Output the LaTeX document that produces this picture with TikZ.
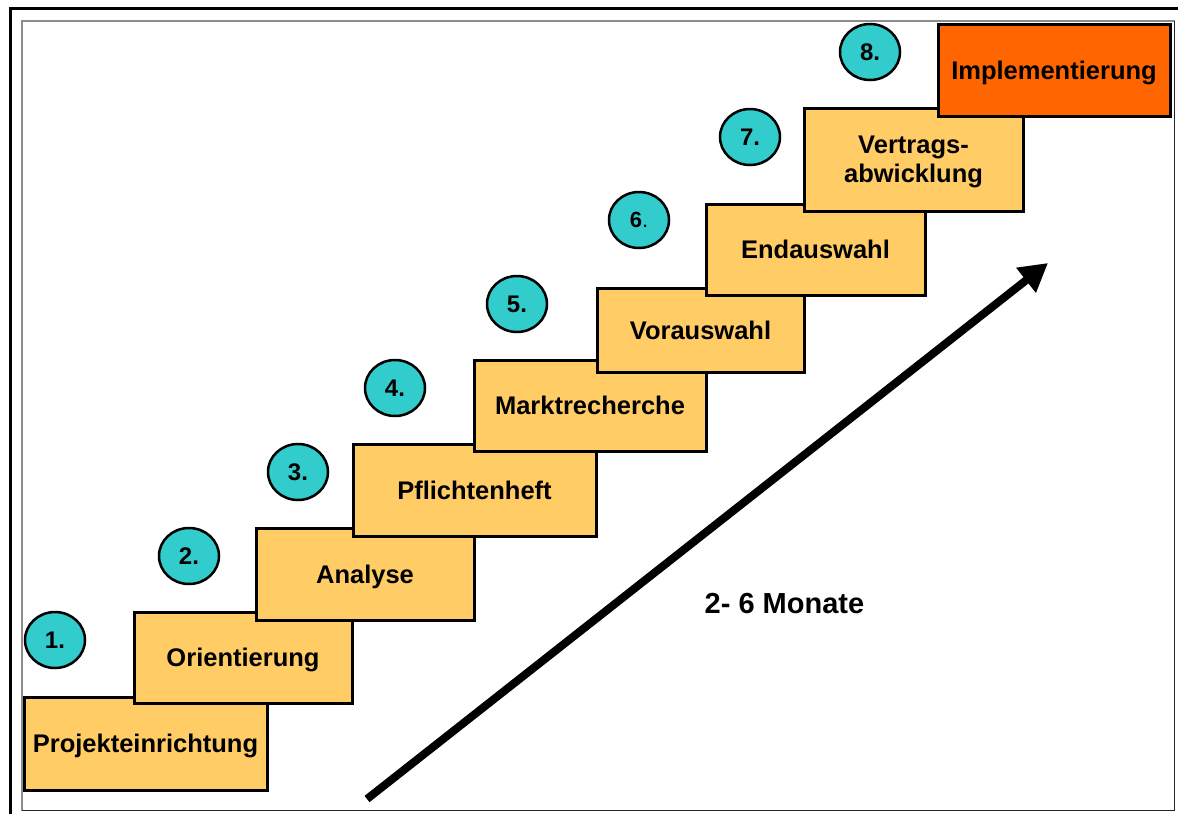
\documentclass[tikz,border=0pt]{standalone}
\usepackage{fontspec}
\setmainfont{Liberation Sans}
\usetikzlibrary{shapes.geometric,arrows.meta}
\definecolor{stepfill}{RGB}{255,204,102}
\definecolor{lastfill}{RGB}{255,102,0}
\definecolor{numfill}{RGB}{51,204,204}
\tikzset{
  stepbox/.style={draw=black, line width=3pt, fill=stepfill, rectangle, inner sep=0pt,
    font=\bfseries\fontsize{25.5}{29}\selectfont, text depth=0pt, align=center},
  numcircle/.style={draw=black, line width=2.5pt, fill=numfill, ellipse, inner sep=0pt,
    minimum width=60pt, minimum height=56pt, font=\bfseries\fontsize{24}{26}\selectfont, text depth=0pt},
  bigarrow/.style={line width=8pt, -{Triangle[length=28pt,width=30pt]}}
}
\begin{document}
\begin{tikzpicture}[x=1pt,y=-1pt]
\useasboundingbox (0,0) rectangle (1178,814);
\fill[white] (0,0) rectangle (1178,814);
% frames
\draw[line width=3pt] (10.5,814) -- (10.5,8.5) -- (1178,8.5);
\draw[line width=1.5pt, black!45] (22,21) rectangle (1174.5,810.5);
\draw[line width=1.2pt, black!85] (1174.5,21) -- (1174.5,810.5) -- (22,810.5);
% steps
\node[stepbox, minimum width=243pt, minimum height=93pt] (b1) at (145.5,743.5) {Projekteinrichtung};
\node[stepbox, minimum width=218pt, minimum height=91pt] (b2) at (243,657.5) {Orientierung};
\node[stepbox, minimum width=218pt, minimum height=92pt] (b3) at (365,574) {Analyse};
\node[stepbox, minimum width=243pt, minimum height=92pt] (b4) at (474.5,490) {Pflichtenheft};
\node[stepbox, minimum width=232pt, minimum height=91pt] (b5) at (590,405.5) {Marktrecherche};
\node[stepbox, minimum width=207pt, minimum height=84pt] (b6) at (700.5,330) {Vorauswahl};
\node[stepbox, minimum width=219pt, minimum height=91pt] (b7) at (815.5,249.5) {Endauswahl};
\node[stepbox, minimum width=219pt, minimum height=103pt] (b8) at (913.5,159.5) {Vertrags-\\abwicklung};
\node[stepbox, fill=lastfill, minimum width=232pt, minimum height=92pt] (b9) at (1054,70) {Implementierung};
% numbers
\node[numcircle] (c1) at (55,640) {1.};
\node[numcircle] (c2) at (189,556) {2.};
\node[numcircle] (c3) at (298,472) {3.};
\node[numcircle] (c4) at (395,388) {4.};
\node[numcircle] (c5) at (517,304) {5.};
\node[numcircle, font=\bfseries\fontsize{22}{26}\selectfont] (c6) at (639,220) {6\textmd{.}};
\node[numcircle] (c7) at (750,137) {7.};
\node[numcircle] (c8) at (870,52) {8.};
% arrow
\coordinate (as) at (367,799);
\coordinate (ae) at (1048,263);
\draw[bigarrow] (as) -- (ae);
\node[font=\bfseries\fontsize{29}{32}\selectfont, text depth=0pt, inner sep=0pt] (dur) at (784.5,603) {2- 6 Monate};
\end{tikzpicture}
\end{document}
